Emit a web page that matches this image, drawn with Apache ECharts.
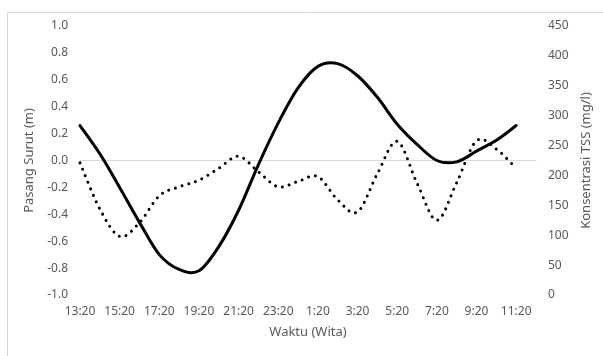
<!DOCTYPE html>
<html>
<head>
<meta charset="utf-8">
<script src="https://cdn.jsdelivr.net/npm/echarts@6/dist/echarts.min.js"></script>
<style>
  html, body { margin: 0; padding: 0; background: #fff; }
  #chart { width: 603px; height: 356px; }
</style>
</head>
<body>
<div id="chart"></div>
<script>
  // hourly categories, 13:20 to 12:20 next day
  const categories = [
    '13:20', '14:20', '15:20', '16:20', '17:20', '18:20', '19:20', '20:20',
    '21:20', '22:20', '23:20', '0:20', '1:20', '2:20', '3:20', '4:20',
    '5:20', '6:20', '7:20', '8:20', '9:20', '10:20', '11:20', '12:20'
  ];

  // tide level (m), left axis
  const pasangSurut = [
    0.26, 0.05, -0.20, -0.46, -0.70, -0.81, -0.82, -0.64,
    -0.37, -0.03, 0.28, 0.54, 0.70, 0.72, 0.63, 0.47,
    0.27, 0.12, 0.00, -0.01, 0.07, 0.15, 0.26, null
  ];

  // TSS concentration (mg/l), right axis
  const tss = [
    221, 144, 98, 121, 166, 181, 192, 212,
    232, 206, 181, 190, 198, 159, 139, 203,
    257, 187, 125, 188, 258, 244, 212, null
  ];

  const leftTicks = { min: -1, max: 1, interval: 0.2 };
  const rightTicks = { min: 0, max: 450, interval: 50 };

  const textColor = '#595959';
  const font = 'Noto Sans';

  // Excel-style smoothed line: cubic bezier through each point,
  // handles taken from the neighbouring points (catmull-rom, 1/6)
  function smoothPath(api, values) {
    const pts = [];
    values.forEach((v, i) => {
      if (v != null) pts.push(api.coord([i, v]));
    });
    let d = 'M' + pts[0][0] + ' ' + pts[0][1];
    for (let i = 0; i < pts.length - 1; i++) {
      const p0 = pts[Math.max(i - 1, 0)];
      const p1 = pts[i];
      const p2 = pts[i + 1];
      const p3 = pts[Math.min(i + 2, pts.length - 1)];
      const c1x = p1[0] + (p2[0] - p0[0]) / 6;
      const c1y = p1[1] + (p2[1] - p0[1]) / 6;
      const c2x = p2[0] - (p3[0] - p1[0]) / 6;
      const c2y = p2[1] - (p3[1] - p1[1]) / 6;
      d += ' C' + c1x + ' ' + c1y + ' ' + c2x + ' ' + c2y + ' ' + p2[0] + ' ' + p2[1];
    }
    return d;
  }

  function lineRenderer(values, dash) {
    return function(params, api) {
      if (params.dataIndex !== 0) return null;
      return {
        type: 'path',
        shape: { pathData: smoothPath(api, values) },
        style: {
          fill: null,
          stroke: '#000',
          lineWidth: 3,
          lineDash: dash,
          lineCap: 'round',
          lineJoin: 'round'
        }
      };
    };
  }

  const chart = echarts.init(document.getElementById('chart'));
  chart.setOption({
    animation: false,
    textStyle: { fontFamily: font },
    graphic: [{
      type: 'rect',
      left: 5,
      top: 10,
      shape: { width: 700, height: 500 },
      style: { fill: 'none', stroke: '#d9d9d9', lineWidth: 1 },
      silent: true
    }],
    grid: { left: 80, right: 67, top: 26, bottom: 61 },
    xAxis: [{
      type: 'category',
      data: categories,
      boundaryGap: false,
      name: 'Waktu (Wita)',
      nameLocation: 'middle',
      nameGap: 31,
      nameTextStyle: { color: textColor, fontSize: 13, fontFamily: font },
      axisLine: { show: false, onZero: false },
      axisTick: { show: false },
      axisLabel: { interval: 1, color: textColor, fontSize: 12, margin: 11, fontFamily: font },
      splitLine: { show: false }
    }, {
      type: 'category',
      data: categories,
      boundaryGap: false,
      position: 'bottom',
      axisLine: { show: true, onZero: true, onZeroAxisIndex: 0, lineStyle: { color: '#d9d9d9', width: 1 } },
      axisTick: { show: false },
      axisLabel: { show: false },
      splitLine: { show: false }
    }],
    yAxis: [{
      type: 'value',
      min: leftTicks.min,
      max: leftTicks.max,
      interval: leftTicks.interval,
      name: 'Pasang Surut (m)',
      nameLocation: 'middle',
      nameGap: 39,
      nameTextStyle: { color: textColor, fontSize: 13, fontFamily: font },
      axisLine: { show: false },
      axisTick: { show: false },
      splitLine: { show: false },
      axisLabel: {
        color: textColor, fontSize: 12, margin: 12, fontFamily: font,
        formatter: (v) => v.toFixed(1)
      }
    }, {
      type: 'value',
      position: 'right',
      min: rightTicks.min,
      max: rightTicks.max,
      interval: rightTicks.interval,
      name: 'Konsentrasi TSS (mg/l)',
      nameLocation: 'middle',
      nameRotate: 90,
      nameGap: 42,
      nameTextStyle: { color: textColor, fontSize: 13, fontFamily: font },
      axisLine: { show: false },
      axisTick: { show: false },
      splitLine: { show: false },
      axisLabel: { color: textColor, fontSize: 12, margin: 12, fontFamily: font }
    }],
    series: [{
      name: 'Pasang Surut',
      type: 'custom',
      xAxisIndex: 0,
      yAxisIndex: 0,
      data: pasangSurut.map((v, i) => [i, v]),
      renderItem: lineRenderer(pasangSurut, null),
      silent: true,
      z: 3
    }, {
      name: 'TSS',
      type: 'custom',
      xAxisIndex: 0,
      yAxisIndex: 1,
      data: tss.map((v, i) => [i, v]),
      renderItem: lineRenderer(tss, [0.01, 7]),
      silent: true,
      z: 2
    }]
  });
</script>
</body>
</html>
